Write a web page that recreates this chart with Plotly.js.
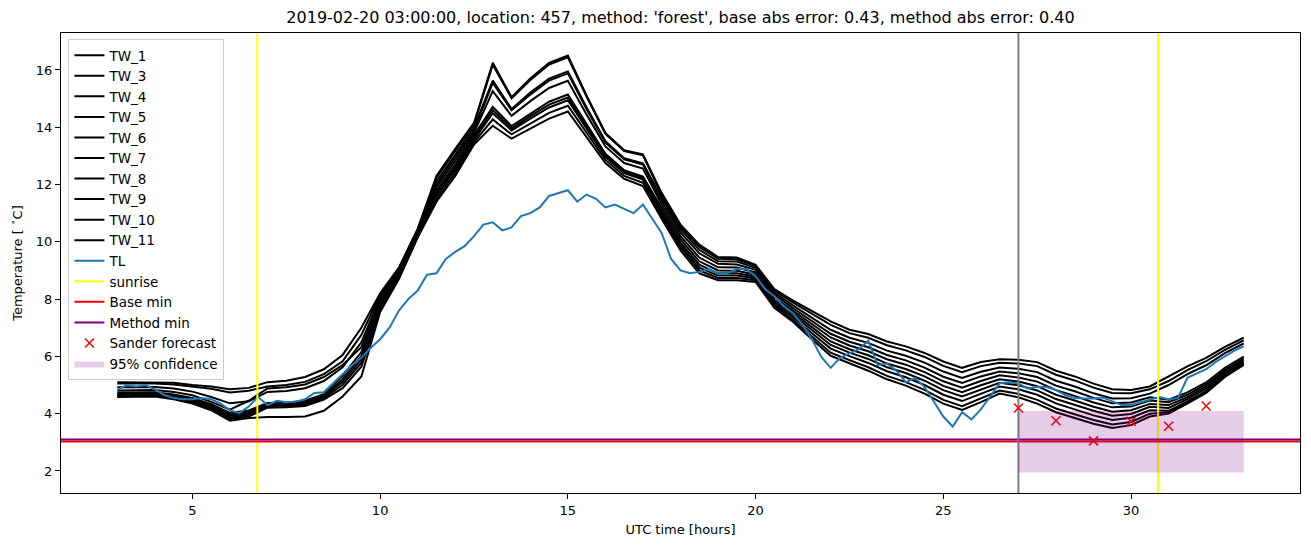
<!DOCTYPE html>
<html>
<head>
<meta charset="utf-8">
<script src="https://cdn.plot.ly/plotly-3.0.1.min.js"></script>
<style>
  html, body { margin: 0; padding: 0; background: #fff; }
  #plot { width: 1311px; height: 547px; }
</style>
</head>
<body>
<div id="plot"></div>
<script>
// half-hourly station readings, 03:00 .. 33:00 UTC
var twNames = ['TW_1', 'TW_3', 'TW_4', 'TW_5', 'TW_6', 'TW_7', 'TW_8', 'TW_9', 'TW_10', 'TW_11'];

var tw1 = [5.10,5.10,5.10,5.08,5.00,4.95,4.85,4.90,5.10,5.15,5.28,5.55,6.05,7.00,8.20,9.10,10.45,12.30,13.25,14.15,16.25,15.05,15.70,16.25,16.50,15.10,13.80,13.20,13.05,11.70,10.60,9.90,9.47,9.45,9.20,8.35,7.95,7.60,7.22,6.93,6.78,6.52,6.35,6.12,5.82,5.60,5.80,5.90,5.88,5.80,5.50,5.30,5.05,4.85,4.83,4.95,5.30,5.65,5.95,6.33,6.65];
var tw3 = [5.05,5.05,5.05,5.02,4.94,4.87,4.74,4.80,4.95,5.00,5.11,5.38,5.83,6.75,8.15,9.07,10.43,12.23,13.17,14.09,16.18,15.01,15.65,16.19,16.44,15.06,13.77,13.17,13.02,11.63,10.53,9.82,9.41,9.39,9.15,8.30,7.88,7.50,7.10,6.81,6.65,6.39,6.21,5.98,5.67,5.45,5.66,5.78,5.75,5.66,5.36,5.16,4.91,4.72,4.71,4.85,5.14,5.52,5.83,6.23,6.56];
var tw4 = [4.92,4.93,4.93,4.88,4.77,4.58,4.36,4.43,4.76,4.79,4.89,5.14,5.62,6.49,8.06,9.01,10.38,12.10,13.04,13.99,15.63,14.64,15.21,15.70,15.95,14.69,13.51,12.92,12.74,11.54,10.44,9.72,9.32,9.31,9.09,8.23,7.77,7.36,6.93,6.65,6.47,6.20,6.02,5.78,5.47,5.25,5.46,5.61,5.57,5.45,5.15,4.95,4.71,4.53,4.54,4.70,5.00,5.38,5.69,6.11,6.45];
var tw5 = [4.81,4.83,4.83,4.76,4.64,4.41,4.14,4.45,4.88,4.92,5.02,5.28,5.70,6.32,7.97,8.96,10.35,11.99,12.92,13.89,15.55,14.59,15.14,15.63,15.88,14.63,13.46,12.88,12.70,11.43,10.33,9.60,9.23,9.21,9.02,8.16,7.68,7.24,6.79,6.51,6.32,6.05,5.86,5.61,5.29,5.07,5.30,5.47,5.41,5.28,4.98,4.78,4.55,4.36,4.39,4.57,4.49,4.74,5.09,5.60,5.99];
var tw6 = [4.74,4.75,4.75,4.67,4.55,4.33,4.03,4.11,4.37,4.39,4.45,4.68,5.33,6.15,7.91,8.92,10.32,11.90,12.82,13.81,15.26,14.40,14.91,15.37,15.62,14.44,13.33,12.75,12.56,11.30,10.20,9.45,9.11,9.10,8.93,8.06,7.60,7.13,6.66,6.38,6.18,5.90,5.71,5.45,5.13,4.91,5.14,5.34,5.26,5.12,4.82,4.62,4.39,4.22,4.25,4.46,4.40,4.66,5.02,5.53,5.93];
var tw7 = [4.69,4.71,4.71,4.63,4.49,4.29,3.97,4.06,4.32,4.34,4.40,4.62,5.21,6.01,7.82,8.87,10.28,11.78,12.70,13.72,14.71,14.04,14.48,14.89,15.14,14.08,13.07,12.50,12.28,11.18,10.08,9.32,9.00,8.99,8.85,7.97,7.52,7.02,6.52,6.25,6.04,5.75,5.56,5.30,4.97,4.75,4.99,5.20,5.12,4.96,4.66,4.46,4.24,4.07,4.12,4.34,4.30,4.58,4.94,5.47,5.87];
var tw8 = [4.66,4.68,4.68,4.59,4.45,4.25,3.92,4.01,4.28,4.30,4.36,4.58,5.11,5.90,7.76,8.83,10.25,11.69,12.60,13.64,14.60,13.96,14.39,14.79,15.04,14.01,13.01,12.45,12.23,11.07,9.97,9.20,8.90,8.90,8.78,7.90,7.44,6.92,6.40,6.13,5.91,5.62,5.42,5.15,4.82,4.60,4.85,5.08,4.99,4.81,4.51,4.31,4.10,3.93,3.99,4.24,4.20,4.51,4.87,5.41,5.81];
var tw9 = [4.63,4.65,4.65,4.56,4.42,4.20,3.86,3.96,4.25,4.26,4.31,4.54,5.01,5.78,7.69,8.79,10.22,11.60,12.51,13.57,14.49,13.89,14.30,14.69,14.94,13.93,12.96,12.40,12.17,10.98,9.88,9.10,8.82,8.82,8.72,7.83,7.36,6.81,6.27,6.01,5.77,5.48,5.27,5.00,4.66,4.44,4.69,4.95,4.85,4.66,4.36,4.16,3.94,3.78,3.86,4.12,4.10,4.43,4.79,5.34,5.76];
var tw10 = [4.61,4.63,4.63,4.53,4.38,4.16,3.81,3.90,4.21,4.22,4.27,4.49,4.89,5.64,7.62,8.74,10.18,11.49,12.40,13.48,14.27,13.75,14.13,14.50,14.75,13.79,12.86,12.30,12.06,10.89,9.79,9.00,8.74,8.74,8.66,7.77,7.27,6.69,6.13,5.87,5.62,5.32,5.10,4.83,4.48,4.26,4.53,4.81,4.69,4.48,4.18,3.98,3.78,3.62,3.71,4.00,4.05,4.39,4.76,5.31,5.73];
var tw11 = [4.58,4.60,4.60,4.50,4.35,4.12,3.75,3.85,3.88,3.88,3.90,4.10,4.60,5.30,7.55,8.70,10.15,11.40,12.30,13.40,14.05,13.60,13.95,14.30,14.55,13.64,12.75,12.20,11.95,10.80,9.70,8.90,8.66,8.66,8.60,7.70,7.20,6.60,6.02,5.76,5.50,5.20,4.98,4.70,4.35,4.13,4.40,4.70,4.57,4.35,4.05,3.85,3.65,3.50,3.60,3.90,4.00,4.35,4.72,5.28,5.70];

// air temperature, quarter-hourly
var tl = [4.83,5.00,4.95,5.00,4.85,4.65,4.55,4.50,4.50,4.55,4.50,4.35,4.12,4.02,4.25,4.58,4.30,4.45,4.40,4.42,
          4.50,4.72,4.75,5.07,5.40,5.70,5.95,6.30,6.60,7.00,7.60,8.00,8.30,8.85,8.90,9.40,9.65,9.85,10.20,10.60,
          10.68,10.40,10.50,10.90,11.00,11.20,11.60,11.70,11.80,11.40,11.65,11.50,11.20,11.30,11.15,11.00,11.30,10.80,10.30,9.40,
          9.00,8.90,8.95,9.05,8.90,8.90,9.05,9.05,8.80,8.35,8.10,7.75,7.50,7.10,6.60,5.98,5.60,5.95,6.10,6.25,
          6.55,5.70,5.75,5.50,5.10,5.25,4.93,4.40,3.90,3.55,4.05,3.80,4.15,4.60,5.06,5.10,5.05,4.88,4.94,4.93,
          4.82,4.65,4.55,4.53,4.53,4.56,4.42,4.30,4.30,4.40,4.50,4.58,4.50,4.55,5.25,5.40,5.55,5.80,6.00,6.20,
          6.35];

var sunrise = [6.73, 30.72];
var forecastTime = 27.0;
var baseMin = 3.03;
var methodMin = 3.10;

var sanderHours = [27, 28, 29, 30, 31, 32];
var sanderTemps = [4.20, 3.75, 3.05, 3.73, 3.56, 4.27];

var confHours = [27, 33];
var confLow = 1.95;
var confHigh = 4.09;

var xRange = [1.5, 34.5];
var yRange = [1.23, 17.29];

var hoursHalf = [];
for (var i = 0; i < tw1.length; i++) hoursHalf.push(3 + i * 0.5);
var hoursQuarter = [];
for (var j = 0; j < tl.length; j++) hoursQuarter.push(3 + j * 0.25);

var twSeries = [tw1, tw3, tw4, tw5, tw6, tw7, tw8, tw9, tw10, tw11];
var data = [];

twSeries.forEach(function(s, k) {
    data.push({
        x: hoursHalf, y: s, name: twNames[k],
        mode: 'lines', type: 'scatter',
        line: {color: 'black', width: 2}
    });
});

data.push({
    x: hoursQuarter, y: tl, name: 'TL',
    mode: 'lines', type: 'scatter',
    line: {color: '#1f77b4', width: 2}
});

data.push({
    x: [sunrise[0], sunrise[0], null, sunrise[1], sunrise[1]],
    y: [yRange[0], yRange[1], null, yRange[0], yRange[1]],
    name: 'sunrise', mode: 'lines', type: 'scatter',
    line: {color: '#ffff00', width: 2}
});

data.push({
    x: xRange, y: [baseMin, baseMin], name: 'Base min',
    mode: 'lines', type: 'scatter',
    line: {color: '#ff0000', width: 2}
});

data.push({
    x: xRange, y: [methodMin, methodMin], name: 'Method min',
    mode: 'lines', type: 'scatter',
    line: {color: '#800080', width: 2}
});

data.push({
    x: [forecastTime, forecastTime], y: yRange,
    mode: 'lines', type: 'scatter', showlegend: false,
    line: {color: '#808080', width: 2}
});

data.push({
    x: sanderHours, y: sanderTemps, name: 'Sander forecast',
    mode: 'markers', type: 'scatter',
    marker: {symbol: 'x-thin', size: 9, color: '#ff0000', line: {color: '#ff0000', width: 1.5}}
});

data.push({
    x: [confHours[0], confHours[1], confHours[1], confHours[0], confHours[0]],
    y: [confLow, confLow, confHigh, confHigh, confLow],
    name: '95% confidence', mode: 'lines', type: 'scatter',
    fill: 'toself', fillcolor: 'rgba(128,0,128,0.2)',
    line: {width: 0, color: 'rgba(128,0,128,0.2)'}
});

var axisStyle = {
    showline: true, mirror: true, linecolor: 'black', linewidth: 1,
    ticks: 'outside', ticklen: 5, tickcolor: 'black', tickwidth: 1,
    showgrid: false, zeroline: false,
    tickfont: {family: 'DejaVu Sans', size: 13, color: 'black'}
};

var layout = {
    width: 1311, height: 547,
    margin: {l: 61, r: 11, t: 33, b: 54},
    paper_bgcolor: 'white', plot_bgcolor: 'white',
    font: {family: 'DejaVu Sans', color: 'black'},
    title: {
        text: "2019-02-20 03:00:00, location: 457, method: 'forest', base abs error: 0.43, method abs error: 0.40",
        font: {family: 'DejaVu Sans', size: 16, color: 'black'},
        x: 0.5, xref: 'paper', xanchor: 'center', y: 0.968, yanchor: 'middle'
    },
    xaxis: Object.assign({}, axisStyle, {
        range: xRange, tickvals: [5, 10, 15, 20, 25, 30],
        title: {text: 'UTC time [hours]', font: {family: 'DejaVu Sans', size: 13}, standoff: 8}
    }),
    yaxis: Object.assign({}, axisStyle, {
        range: yRange, tickvals: [2, 4, 6, 8, 10, 12, 14, 16],
        title: {text: 'Temperature [ <sup>∘</sup>C]', font: {family: 'DejaVu Sans', size: 13}, standoff: 10}
    }),
    showlegend: true,
    legend: {
        x: 0.006, y: 0.987, xanchor: 'left', yanchor: 'top',
        bgcolor: 'rgba(255,255,255,0.8)', bordercolor: '#cccccc', borderwidth: 1,
        font: {family: 'DejaVu Sans', size: 13.5, color: 'black'},
        tracegroupgap: 0
    }
};

Plotly.newPlot('plot', data, layout, {displayModeBar: false});
</script>
</body>
</html>
